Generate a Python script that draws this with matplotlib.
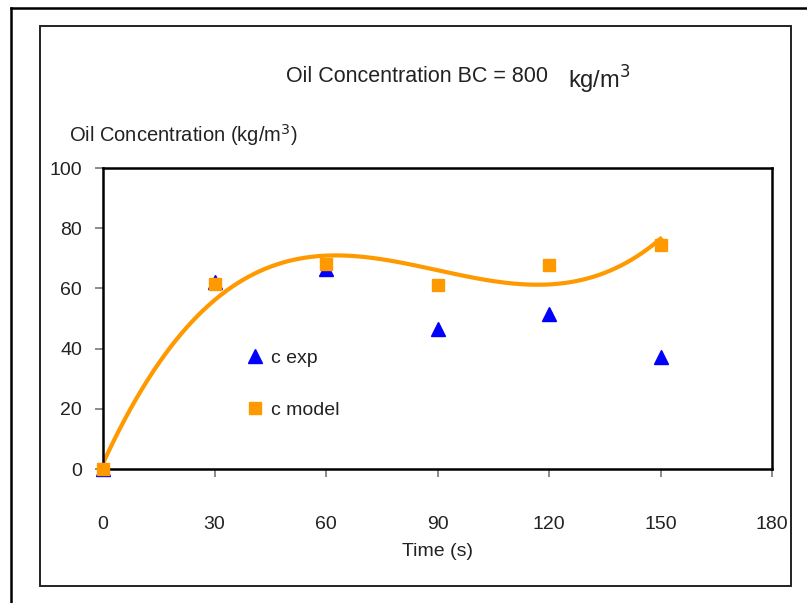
"""
Oil concentration against time, experiment versus model.
"""

import numpy as np
import matplotlib
matplotlib.use("Agg")
from matplotlib import pyplot as plt
from matplotlib.lines import Line2D
from matplotlib.patches import Rectangle

TIME_S = [0, 30, 60, 90, 120, 150]
C_EXP = [0, 62, 66.4, 46.5, 51.5, 37.2]
C_MODEL = [0, 61.5, 68, 61, 67.8, 74.4]
X_TICKS = [0, 30, 60, 90, 120, 150, 180]
Y_TICKS = [0, 20, 40, 60, 80, 100]

W, H = 807, 603
ORANGE = "#FF9900"
BLUE = "#0000FF"
TEXT = "#222222"

plt.rcParams["font.family"] = ["Liberation Sans", "DejaVu Sans"]


def fx(px):
    return px / W


def fy(py):
    return 1 - py / H


fig = plt.figure(figsize=(W / 100, H / 100), dpi=100)

# outer frame (only left and top show) and inner chart border
fig.add_artist(Line2D([fx(11), fx(11)], [fy(7.5), 0], color="black", lw=1.8))
fig.add_artist(Line2D([fx(11), 1], [fy(7.5), fy(7.5)], color="black", lw=1.8))
fig.add_artist(Rectangle((fx(40), fy(586)), fx(791) - fx(40), fy(26) - fy(586),
                         fill=False, edgecolor="#222222", lw=1.4))

ax = fig.add_axes([fx(103), fy(469), fx(772) - fx(103), fy(168) - fy(469)])

# 3rd order polynomial trendline through the model values
fit = np.polyfit(TIME_S, C_MODEL, 3)
t = np.linspace(0, 150, 300)
ax.plot(t, np.polyval(fit, t), color=ORANGE, lw=3, zorder=2)

ax.plot(TIME_S, C_EXP, "^", color=BLUE, ms=10, mec=BLUE, label="c exp",
        zorder=3, clip_on=False)
ax.plot(TIME_S, C_MODEL, "s", color=ORANGE, ms=9, mec=ORANGE,
        label="c model", zorder=4, clip_on=False)

ax.set_xlim(0, 180)
ax.set_ylim(0, 100)
ax.set_xticks(X_TICKS)
ax.set_yticks(Y_TICKS)
for side in ax.spines.values():
    side.set_linewidth(1.8)
    side.set_color("black")
ax.tick_params(axis="both", color="#777777", length=6, width=1.2,
               labelsize=14, labelcolor=TEXT)
ax.tick_params(axis="x", pad=28)
ax.tick_params(axis="y", pad=9)

ax.set_xlabel("Time (s)", fontsize=14, color=TEXT, labelpad=7)

leg = ax.legend(loc="upper left", bbox_to_anchor=(0.184, 0.455), frameon=False,
                fontsize=14, handletextpad=0.2, labelspacing=1.75,
                handlelength=1.2, labelcolor=TEXT)

fig.text(fx(69), fy(135), "Oil Concentration (kg/m$^3$)", fontsize=14.5,
         color=TEXT, ha="left", va="center")
fig.text(fx(548), fy(77), "Oil Concentration BC = 800", fontsize=15.5,
         color=TEXT, ha="right", va="center")
fig.text(fx(568), fy(80), "kg/m$^3$", fontsize=17, color=TEXT,
         ha="left", va="center")

fig.savefig("out.png", dpi=100)
